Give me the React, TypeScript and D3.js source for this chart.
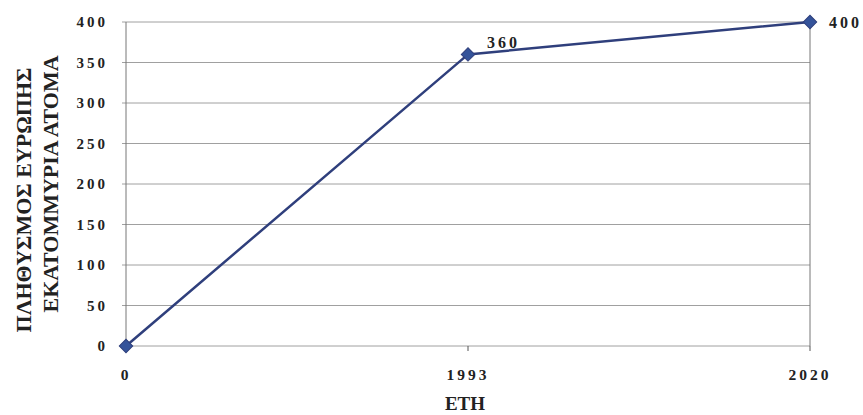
import React from "react";
import * as d3 from "d3";

const years = ["0", "1993", "2020"];
const population = [0, 360, 400];
const pointLabels = ["", "360", "400"];
const yTicks = [0, 50, 100, 150, 200, 250, 300, 350, 400];
const yTitle = ["ΠΛΗΘΥΣΜΟΣ ΕΥΡΩΠΗΣ", "ΕΚΑΤΟΜΜΥΡΙΑ ΑΤΟΜΑ"];
const xTitle = "ΕΤΗ";

export default function App() {
  const W = 863, H = 415;
  const left = 126, right = 810, top = 22, bottom = 346;
  const x = d3.scalePoint<string>().domain(years).range([left, right]);
  const y = d3.scaleLinear().domain([0, 400]).range([bottom, top]);
  const line = d3.line<number>().x((_, i) => x(years[i])!).y((d) => y(d));
  const font = "'Liberation Serif', 'DejaVu Serif', serif";
  const diamond = d3.symbol().type(d3.symbolSquare).size(90)()!;
  return (
    <svg width={W} height={H} style={{ position: "absolute", left: 0, top: 0, background: "#fff" }}>
      {yTicks.map((t) => (
        <g key={t}>
          <line x1={left - 4} x2={right} y1={y(t)} y2={y(t)} stroke="#a0a0a0" strokeWidth={1} />
          <text x={108} y={y(t)} dy="0.35em" textAnchor="end" fontFamily={font} fontWeight="bold" fontSize={15} letterSpacing={3} fill="#222">
            {t}
          </text>
        </g>
      ))}
      <line x1={left} x2={left} y1={top} y2={bottom} stroke="#777" />
      <line x1={right} x2={right} y1={top} y2={bottom} stroke="#777" />
      {years.map((yr) => (
        <g key={yr}>
          <line x1={x(yr)} x2={x(yr)} y1={bottom} y2={bottom + 5} stroke="#555" />
          <text x={x(yr)} y={380} textAnchor="middle" fontFamily={font} fontWeight="bold" fontSize={15.5} letterSpacing={3} fill="#222">
            {yr}
          </text>
        </g>
      ))}
      <path d={line(population)!} fill="none" stroke="#2f3f7c" strokeWidth={2.5} />
      {population.map((v, i) => (
        <g key={i}>
          <path d={diamond} transform={`translate(${x(years[i])},${y(v)}) rotate(45)`} fill="#34539a" stroke="#2f3f7c" />
          {pointLabels[i] && (
            <text x={x(years[i])! + 19} y={y(v) - 12 + (i === 2 ? 12 : 0)} dy="0.35em" fontFamily={font} fontWeight="bold" fontSize={16} letterSpacing={3} fill="#222">
              {pointLabels[i]}
            </text>
          )}
        </g>
      ))}
      <text x={465} y={410} textAnchor="middle" fontFamily={font} fontWeight="bold" fontSize={19} fill="#222">
        {xTitle}
      </text>
      {yTitle.map((t, i) => (
        <text key={i} transform={`translate(${23 + i * 27},${i === 0 ? 200 : 184}) rotate(-90)`} textAnchor="middle" dy="0.35em" fontFamily={font} fontWeight="bold" fontSize={22} fill="#222">
          {t}
        </text>
      ))}
    </svg>
  );
}
